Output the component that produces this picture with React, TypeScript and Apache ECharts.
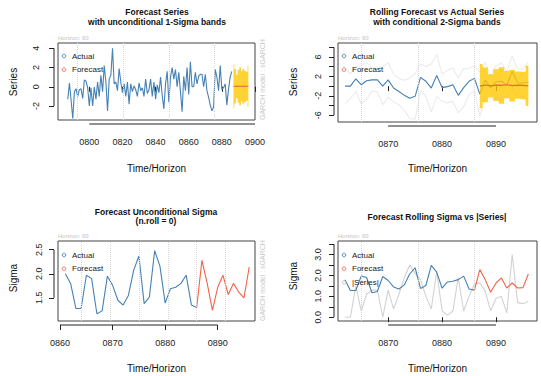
import React, { useEffect, useRef } from "react";
import * as echarts from "echarts";

// ---------------- data ----------------
const seriesStart = 787; // first time index of the long series
const seriesActual = [
  -1.3, 0.4, -1.4, -3.3, -0.5, -0.2, -1.0, -0.3, -0.2, -1.2,
  0.7, 0.6, -0.1, -2.0, -0.1, -2.0, 0.0, -1.3, 0.5, -1.0,
  1.2, -0.5, 2.2, 0.5, -2.5, 0.8, 1.2, 4.0, 0.3, 0.5,
  -0.4, 1.9, 0.5, -0.6, 0.3, -1.0, 0.5, -1.8, 0.3, -0.5,
  0.1, -0.3, -1.0, 0.4, -0.4, -0.1, -1.0, 0.8, -0.7, -0.3,
  0.8, -1.0, 0.5, -1.3, 0.2, -0.6, 1.0, -0.9, -2.3, 0.3,
  1.6, -1.6, 1.0, 2.0, 0.8, 1.8, 0.0, 1.5, -0.5, -2.6,
  1.1, -0.4, 2.0, -0.8, 2.6,
  0.0, 0.0, 1.5, 0.3, 1.1, 1.3, 1.3, 0.0, 1.3, -0.4,
  -1.1, -1.9, -2.5, -2.1, 1.8, 1.0, -0.4, 2.2, -0.3, -0.1,
  0.3, -1.9, -0.3, 1.0, 1.6,
]; // 0787..0886

const forecastStart = 887;
const realizedAfter = [-1.65, 1.25, -0.3, 0.9, 1.0, 0.2, 3.0, 0.7, 0.65, 0.75]; // 0887..0896
const meanUncond = [0.05, 0.06, 0.04, 0.05, 0.06, 0.05, 0.04, 0.05, 0.06, 0.05];
const meanRoll = [0.0, 0.25, 0.05, 0.2, 0.15, 0.3, 0.1, 0.2, 0.15, 0.05];

const sigmaStart = 861;
const sigmaFit = [
  2.0, 1.8, 1.28, 1.28, 1.97, 1.9, 1.17, 1.23, 1.95, 1.76,
  1.45, 1.35, 1.55, 2.07, 2.37, 1.38, 1.52, 2.48, 2.16, 1.39,
  1.69, 1.72, 1.8, 1.97, 1.35, 1.3,
]; // 0861..0886
const sigmaUncond = [2.28, 1.8, 1.24, 1.72, 1.97, 1.57, 1.8, 1.62, 1.5, 2.14];
const sigmaRoll = [2.28, 1.8, 1.2, 1.64, 1.88, 1.4, 1.64, 1.4, 1.42, 2.07];

const xTicksLong = [800, 820, 840, 860, 880, 900];
const xTicksRoll = [870, 880, 890];
const xTicksSigma = [860, 870, 880, 890];
const yTicksSeries = [-2, 0, 2, 4];
const yTicksRoll = [-6, -4, -2, 0, 2, 4, 6, 8];
const yLabelsRoll = [-6, -2, 2, 6];
const yTicksSigma = [1.5, 2.0, 2.5];
const yTicksRollSigma = [0, 0.5, 1, 1.5, 2, 2.5, 3, 3.5];
const yLabelsRollSigma = [0, 1, 2, 3];

const titles = [
  ["Forecast Series", "with unconditional 1-Sigma bands"],
  ["Rolling Forecast vs Actual Series", "with conditional 2-Sigma bands"],
  ["Forecast Unconditional Sigma", "(n.roll = 0)"],
  ["Forecast Rolling Sigma vs |Series|"],
];
const yNames = ["Series", "Series", "Sigma", "Sigma"];
const xName = "Time/Horizon";
const horizonText = "Horizon: 60";
const modelText = "GARCH model : sGARCH";

// ---------------- style / layout ----------------
const FONT = "'Liberation Sans', Arial, Helvetica, sans-serif";
const BLUE = "#4682B4";
const RED = "#F2634A";
const GOLD = "#FFC800";
const AX = "#222";
const OFF = 4;

const idx = (start: number, n: number) => Array.from({ length: n }, (_, i) => start + i);
const pairs = (xs: number[], ys: number[]) => xs.map((x, i) => [x, ys[i]]);
const fmtYear = (v: number) => String(Math.round(v)).padStart(4, "0");

const panels = [
  { grid: { left: 58, top: 43, width: 197, height: 77 }, xMin: 781.1, xMax: 900, yMin: -3.45, yMax: 4.55,
    xTicks: xTicksLong, yTicks: yTicksSeries, yLabels: yTicksSeries, yFmt: (v: number) => String(v), yMargin: 14,
    vGrid: [793, 820.5, 848, 875.5], titleX: 157, titleY: [12, 21.5], nameX: 13, nameY: 82, xNameY: 168, legendY: 56, model: true },
  { grid: { left: 338, top: 43, width: 199, height: 79 }, xMin: 860.7, xMax: 897.6, yMin: -7.4, yMax: 8.9,
    xTicks: xTicksRoll, yTicks: yTicksRoll, yLabels: yLabelsRoll, yFmt: (v: number) => String(v), yMargin: 12,
    vGrid: [865, 875.5, 886], titleX: 437, titleY: [12, 21.5], nameX: 293, nameY: 82, xNameY: 168, legendY: 56, model: false },
  { grid: { left: 58, top: 241, width: 197, height: 80 }, xMin: 859.6, xMax: 897.1, yMin: 1.02, yMax: 2.68,
    xTicks: xTicksSigma, yTicks: yTicksSigma, yLabels: yTicksSigma, yFmt: (v: number) => v.toFixed(1), yMargin: 11,
    vGrid: [864, 869.5, 875, 880.5, 886, 891.5], titleX: 156, titleY: [212, 221], nameX: 13, nameY: 278, xNameY: 368, legendY: 255, model: true },
  { grid: { left: 338, top: 241, width: 199, height: 80 }, xMin: 860.7, xMax: 897.6, yMin: -0.18, yMax: 3.65,
    xTicks: xTicksRoll, yTicks: yTicksRollSigma, yLabels: yLabelsRollSigma, yFmt: (v: number) => v.toFixed(1), yMargin: 12,
    vGrid: [865, 875.5, 886], titleX: 437, titleY: [217], nameX: 293, nameY: 276, xNameY: 368, legendY: 255, model: false },
];

const line = (gi: number, data: number[][], color: string, z: number, extra: any = {}) => ({
  type: "line", xAxisIndex: gi, yAxisIndex: gi, data, z, symbol: "none", silent: true,
  lineStyle: { color, width: 1.1 }, itemStyle: { color }, ...extra,
});

const gridMark = (gi: number) => ({
  silent: true, symbol: ["none", "none"], label: { show: false },
  lineStyle: { type: "dotted", color: "#d6d6d6", width: 1 },
  data: panels[gi].vGrid.map((x) => ({ xAxis: x })),
});

function bandSeries(gi: number, xs: number[], lo: number[], hi: number[]) {
  return {
    type: "custom", xAxisIndex: gi, yAxisIndex: gi, z: 3, silent: true,
    data: xs.map((x, i) => [x, lo[i], hi[i]]),
    encode: { x: 0, y: [1, 2] },
    renderItem: (params: any, api: any) => {
      if (params.dataIndex !== 0) return null;
      const n = xs.length;
      const top: number[][] = [];
      const bot: number[][] = [];
      for (let i = 0; i < n; i++) {
        const l = i === 0 ? xs[0] : (xs[i - 1] + xs[i]) / 2;
        const r = i === n - 1 ? xs[n - 1] : (xs[i] + xs[i + 1]) / 2;
        top.push(api.coord([l, hi[i]]), api.coord([r, hi[i]]));
        bot.push(api.coord([l, lo[i]]), api.coord([r, lo[i]]));
      }
      return { type: "polygon", shape: { points: top.concat(bot.reverse()) }, style: { fill: GOLD, opacity: 0.8 } };
    },
  };
}

function buildSeries() {
  const fx = idx(forecastStart, realizedAfter.length);
  const longX = idx(seriesStart, seriesActual.length);
  const rollActual = seriesActual.slice(-25).concat(realizedAfter);
  const rollX = idx(forecastStart - 25, rollActual.length);
  const rollSigma = sigmaFit.slice(1).concat(sigmaRoll);
  const sigX = idx(sigmaStart, sigmaFit.length);
  const lastS = sigmaFit[sigmaFit.length - 1];
  const out: any[] = [];
  // panel 1
  out.push(line(0, pairs(longX, seriesActual), BLUE, 2, { markLine: gridMark(0) }));
  out.push(bandSeries(0, fx, meanUncond.map((m, i) => m - sigmaUncond[i]), meanUncond.map((m, i) => m + sigmaUncond[i])));
  out.push(line(0, pairs(fx, meanUncond), RED, 4));
  // panel 2
  out.push(line(1, pairs(rollX, rollActual.map((v, i) => v + 2 * rollSigma[i])), "#ebebeb", 1));
  out.push(line(1, pairs(rollX, rollActual.map((v, i) => v - 2 * rollSigma[i])), "#ebebeb", 1));
  out.push(line(1, pairs(rollX, rollActual), BLUE, 2, { markLine: gridMark(1) }));
  out.push(bandSeries(1, fx, meanRoll.map((m, i) => m - 2 * sigmaRoll[i]), meanRoll.map((m, i) => m + 2 * sigmaRoll[i])));
  out.push(line(1, pairs(fx, meanRoll), RED, 4));
  // panel 3
  out.push(line(2, pairs(sigX, sigmaFit), BLUE, 2, { markLine: gridMark(2) }));
  out.push(line(2, [[forecastStart - 1, lastS]].concat(pairs(fx, sigmaUncond)), RED, 4));
  // panel 4
  out.push(line(3, pairs(rollX, rollActual.map((v) => Math.abs(v))), "#d2d2d2", 1));
  out.push(line(3, pairs(sigX.slice(1), sigmaFit.slice(1)), BLUE, 2, { markLine: gridMark(3) }));
  out.push(line(3, [[forecastStart - 1, lastS]].concat(pairs(fx, sigmaRoll)), RED, 4));
  return out;
}

const txt = (x: number, y: number, text: string, o: any = {}, rotation = 0) => ({
  type: "text", x, y, rotation, silent: true, z: 10,
  style: { text, fontFamily: FONT, fontSize: 9, fill: "#111", align: "center", verticalAlign: "middle", ...o },
});

function baseGraphics() {
  const g: any[] = [];
  panels.forEach((p, gi) => {
    titles[gi].forEach((t, k) => g.push(txt(p.titleX, p.titleY[k], t, { fontWeight: "bold", fontSize: 8.5 })));
    g.push(txt(p.nameX, p.nameY, yNames[gi], { fontSize: 10 }, Math.PI / 2));
    g.push(txt(p.grid.left + p.grid.width / 2, p.xNameY, xName, { fontSize: 10 }));
    g.push(txt(p.grid.left, p.grid.top - 5, horizonText, { fontSize: 6, fill: "#c4c4c4", align: "left" }));
    if (p.model) {
      g.push(txt(p.grid.left + p.grid.width + 7, p.grid.top + p.grid.height, modelText,
        { fontSize: 7, fill: "#c8c8c8", align: "left" }, Math.PI / 2));
    }
    const items = gi === 3 ? [["Actual", BLUE], ["Forecast", RED], ["|Series|", "#bbbbbb"]] : [["Actual", BLUE], ["Forecast", RED]];
    items.forEach(([label, color], k) => {
      const y = p.legendY + k * 13.7;
      g.push({ type: "circle", silent: true, z: 10, shape: { cx: p.grid.left + 6, cy: y, r: 1.8 },
        style: { fill: "none", stroke: color, lineWidth: 0.9 } });
      g.push(txt(p.grid.left + 14, y, label, { fontSize: 8, align: "left", fill: "#222" }));
    });
  });
  return g;
}

function buildOption() {
  return {
    animation: false,
    backgroundColor: "#ffffff",
    grid: panels.map((p) => ({ ...p.grid, show: true, borderColor: "#444", borderWidth: 1, backgroundColor: "transparent", containLabel: false })),
    xAxis: panels.map((p, gi) => ({
      type: "value", gridIndex: gi, min: p.xMin, max: p.xMax, offset: OFF,
      axisLine: { show: false },
      axisTick: { show: true, length: 5, customValues: p.xTicks, lineStyle: { color: AX } },
      axisLabel: { show: true, customValues: p.xTicks, formatter: fmtYear, fontSize: 9, color: AX, margin: 13, fontFamily: FONT },
      splitLine: { show: false },
    })),
    yAxis: panels.map((p, gi) => ({
      type: "value", gridIndex: gi, min: p.yMin, max: p.yMax, offset: OFF,
      axisLine: { show: false },
      axisTick: { show: true, length: 5, customValues: p.yTicks, lineStyle: { color: AX } },
      axisLabel: { show: true, customValues: p.yLabels, formatter: p.yFmt, rotate: 90, fontSize: 9, color: AX, margin: p.yMargin, fontFamily: FONT },
      splitLine: { show: false },
    })),
    series: buildSeries(),
    graphic: baseGraphics(),
  };
}

function axisLines(chart: any) {
  const out: any[] = [];
  panels.forEach((p, gi) => {
    const xa = chart.convertToPixel({ xAxisIndex: gi }, p.xTicks[0]);
    const xb = chart.convertToPixel({ xAxisIndex: gi }, p.xTicks[p.xTicks.length - 1]);
    const yBase = p.grid.top + p.grid.height + OFF;
    out.push({ type: "line", silent: true, z: 10, shape: { x1: xa, y1: yBase, x2: xb, y2: yBase }, style: { stroke: AX, lineWidth: 1 } });
    const ya = chart.convertToPixel({ yAxisIndex: gi }, p.yTicks[0]);
    const yb = chart.convertToPixel({ yAxisIndex: gi }, p.yTicks[p.yTicks.length - 1]);
    const xBase = p.grid.left - OFF;
    out.push({ type: "line", silent: true, z: 10, shape: { x1: xBase, y1: ya, x2: xBase, y2: yb }, style: { stroke: AX, lineWidth: 1 } });
  });
  return out;
}

export default function App() {
  const ref = useRef<HTMLDivElement>(null);
  useEffect(() => {
    if (!ref.current) return;
    const chart = echarts.init(ref.current, undefined, { renderer: "svg" });
    chart.setOption(buildOption());
    chart.setOption({ graphic: [...baseGraphics(), ...axisLines(chart)] });
    return () => chart.dispose();
  }, []);
  return (
    <div
      ref={ref}
      style={{ position: "fixed", left: 0, top: 0, width: 541, height: 376, background: "#fff" }}
    />
  );
}
